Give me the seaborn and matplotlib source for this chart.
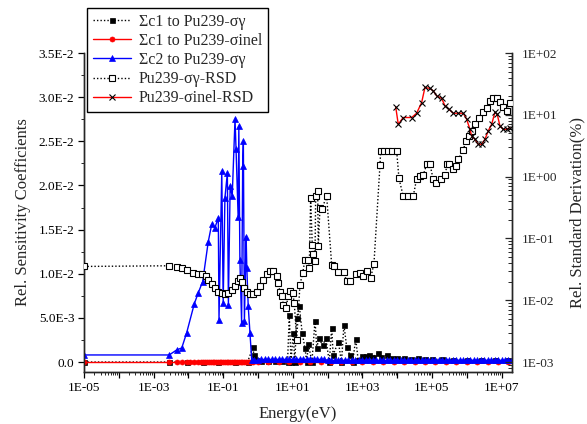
import numpy as np
import matplotlib
matplotlib.use("Agg")
import matplotlib.pyplot as plt
import seaborn as sns
from matplotlib.ticker import MultipleLocator, LogLocator, FuncFormatter, NullFormatter

# ---------------- data (log10 of energy in eV, values) ----------------
# Sigma c1 to Pu239-sigma_gamma (left axis)
c1g_logE = [-5.0, -2.55, -2.05, -1.59, -1.14, -0.66, -0.30,
            -0.14, -0.12, -0.05, 0.10, 0.30, 0.50, 0.70, 0.85, 0.90, 0.95,
            1.01, 1.06, 1.11, 1.19, 1.27, 1.35, 1.40, 1.45, 1.55, 1.64,
            1.69, 1.75, 1.86, 1.95, 2.05, 2.12, 2.16, 2.31, 2.40, 2.47,
            2.55, 2.64, 2.72, 2.81, 2.88, 3.00, 3.10, 3.20, 3.30, 3.45,
            3.55, 3.70, 3.85, 4.00, 4.20, 4.40, 4.60, 4.80, 5.00, 5.30,
            5.60, 6.00, 6.40, 6.80, 7.20]
c1g_val = [0, 0, 0, 0, 0, 0, 0,
           0.0017, 0.0008, 0.0002, 0.0001, 0.0001, 0.0001, 0.0001, 0.0, 0.0053, 0.0,
           0.0033, 0.0, 0.0050, 0.0063, 0.0033, 0.0016, 0.0, 0.0020, 0.0, 0.0047,
           0.0016, 0.0027, 0.0019, 0.0027, 0.0, 0.0039, 0.0008, 0.0023, 0.0, 0.0042,
           0.0017, 0.0008, 0.0, 0.0026, 0.0002, 0.0007, 0.0007, 0.0008, 0.0006, 0.0010,
           0.0006, 0.0008, 0.0005, 0.0004, 0.0004, 0.0003, 0.0004, 0.0003, 0.0003, 0.0003,
           0.0002, 0.0002, 0.0002, 0.0002, 0.0002]

# Sigma c1 to Pu239-sigma_inel (left axis)
c1i_logE = [-5.0, -2.55, -2.34, -2.19, -2.05, -1.95, -1.83, -1.72, -1.65, -1.59,
            -1.52, -1.46, -1.40, -1.35, -1.30, -1.25, -1.20, -1.15, -1.10, -1.05,
            -1.00, -0.95, -0.90, -0.85, -0.80, -0.75, -0.70, -0.65, -0.60, -0.55,
            -0.50, -0.45, -0.40, -0.35, -0.30, -0.25, -0.20, -0.15,
            0.0, 0.3, 0.6, 0.9, 1.2, 1.5, 1.8, 2.1, 2.4, 2.7, 3.0, 3.3, 3.6,
            3.9, 4.2, 4.5, 4.8, 5.1, 5.4, 5.7, 6.0, 6.3, 6.6, 6.9, 7.2]
c1i_val = [0.0, 0.0, 0.0, 0.0, 0.0, 0.0, 0.0, 0.0, 0.0, 0.0,
           0.0, 0.0, 0.0, 0.0, 0.0, 0.0, 0.0, 0.0, 0.0, 0.0,
           0.0, 0.0, 0.0, 0.0, 0.0, 0.0, 0.0, 0.0, 0.0, 0.0,
           0.0, 0.0, 0.0, 0.0, 0.0, 0.0, 0.0, 0.0,
           0.0, 0.0, 0.0, 0.0, 0.0, 0.0, 0.0, 0.0, 0.0, 0.0, 0.0, 0.0, 0.0,
           0.0, 0.0, 0.0, 0.0, 0.0, 0.0, 0.0, 0.0, 0.0, 0.0, 0.0, 0.0]

# Sigma c2 to Pu239-sigma_gamma (left axis)
c2g_logE = [-5.0, -2.55, -2.34, -2.19, -2.05, -1.83, -1.72, -1.59, -1.43, -1.33,
            -1.24, -1.14, -1.12, -1.04, -1.00, -0.95, -0.88, -0.85, -0.80, -0.74,
            -0.66, -0.63, -0.57, -0.55, -0.52, -0.47, -0.44, -0.42, -0.39, -0.34,
            -0.32, -0.28, -0.23, -0.18,
            -0.1, 0.0, 0.1, 0.2, 0.3, 0.4, 0.5, 0.6, 0.7, 0.8, 0.9, 1.0, 1.1, 1.2,
            1.3, 1.4, 1.5, 1.6, 1.7, 1.8, 1.9, 2.0, 2.1, 2.2, 2.3, 2.4, 2.5, 2.6,
            2.7, 2.8, 2.9, 3.0, 3.1, 3.2, 3.3, 3.4, 3.5, 3.6, 3.7, 3.8, 3.9, 4.0,
            4.1, 4.2, 4.3, 4.4, 4.5, 4.6, 4.7, 4.8, 4.9, 5.0, 5.1, 5.2, 5.3, 5.4,
            5.5, 5.6, 5.7, 5.8, 5.9, 6.0, 6.1, 6.2, 6.3, 6.4, 6.5, 6.6, 6.7, 6.8,
            6.9, 7.0, 7.1, 7.2, 7.3]
c2g_val = [0.0008, 0.0008, 0.00136, 0.0016, 0.0033, 0.0066, 0.0078, 0.0091, 0.0136, 0.0156,
           0.0152, 0.0163, 0.0048, 0.0216, 0.0067, 0.0186, 0.0214, 0.0065, 0.0199, 0.0188,
           0.0275, 0.0241, 0.0164, 0.0267, 0.0116, 0.0044, 0.0222, 0.0250, 0.0046, 0.0142,
           0.0106, 0.0063, 0.0033, 0.0002,
           0.0002, 0.0002, 0.0003, 0.0003, 0.0003, 0.0003, 0.0003, 0.0003, 0.0003, 0.0003, 0.0003, 0.0003, 0.0003, 0.0003,
           0.0003, 0.0003, 0.0003, 0.0003, 0.0003, 0.0003, 0.0003, 0.0002, 0.0002, 0.0002, 0.0002, 0.0002, 0.0002, 0.0002,
           0.0002, 0.0002, 0.0002, 0.0002, 0.0002, 0.0002, 0.0002, 0.0002, 0.0002, 0.0002, 0.0002, 0.0002, 0.0002, 0.0002,
           0.0002, 0.0002, 0.0002, 0.0002, 0.0002, 0.0002, 0.0002, 0.0002, 0.0002, 0.0002, 0.0002, 0.0002, 0.0002, 0.0002,
           0.0002, 0.0002, 0.0002, 0.0002, 0.0002, 0.0002, 0.0002, 0.0002, 0.0002, 0.0002, 0.0002, 0.0002, 0.0002, 0.0002,
           0.0002, 0.0002, 0.0002, 0.0002, 0.0002]

# Pu239-sigma_gamma RSD (right axis, %)
rsdg_logE = [-5.0, -2.549, -2.336, -2.193, -2.049, -1.859, -1.716, -1.601, -1.503, -1.428,
             -1.330, -1.236, -1.141, -1.043, -0.948, -0.853, -0.756, -0.661, -0.566, -0.517,
             -0.468, -0.402, -0.325, -0.230, -0.135, -0.037, 0.057, 0.152, 0.250, 0.345,
             0.440, 0.537, 0.583, 0.632, 0.698, 0.727, 0.796, 0.871, 0.920, 0.997,
             1.043, 1.112, 1.207, 1.284, 1.351, 1.445, 1.474, 1.514, 1.560, 1.589,
             1.638, 1.658, 1.716, 1.733, 1.782, 1.830, 1.974, 2.118, 2.184, 2.307,
             2.471, 2.549, 2.644, 2.816, 2.931, 3.009, 3.124, 3.239, 3.333, 3.506,
             3.526, 3.621, 3.736, 3.851, 3.986, 4.052, 4.175, 4.310, 4.463, 4.560,
             4.655, 4.750, 4.848, 4.943, 5.037, 5.106, 5.250, 5.374, 5.440, 5.497,
             5.612, 5.690, 5.756, 5.899, 5.977, 6.072, 6.141, 6.236, 6.359, 6.474,
             6.572, 6.667, 6.761, 6.859, 6.954, 7.049, 7.147, 7.241]
rsdg_val = [0.0352, 0.0361, 0.0340, 0.0327, 0.0312, 0.0275, 0.0269, 0.0269, 0.0243, 0.0214,
            0.0185, 0.0159, 0.0138, 0.0130, 0.0127, 0.0133, 0.0148, 0.0167, 0.0201, 0.0229,
            0.0194, 0.0157, 0.0135, 0.0126, 0.0126, 0.0138, 0.0167, 0.0214, 0.0269, 0.0296,
            0.0292, 0.0243, 0.0190, 0.0138, 0.0115, 0.0084, 0.0074, 0.0115, 0.0142, 0.0133,
            0.0090, 0.0023, 0.0178, 0.0275, 0.0453, 0.0453, 0.0332, 0.454, 0.0793, 0.0566,
            0.0425, 0.482, 0.582, 0.0745, 0.313, 0.294, 0.482, 0.0376, 0.0352, 0.0282,
            0.0282, 0.0201, 0.0201, 0.0269, 0.0275, 0.0243, 0.0292, 0.0229, 0.0390, 1.52,
            2.59, 2.59, 2.59, 2.59, 2.59, 0.935, 0.482, 0.482, 0.482, 0.925,
            1.02, 1.06, 1.58, 1.58, 0.902, 0.796, 0.902, 1.06, 1.58, 1.58,
            1.34, 1.48, 1.90, 2.69, 3.77, 4.54, 5.48, 7.03, 9.04, 11.1,
            13.1, 16.8, 18.4, 18.4, 16.0, 13.3, 11.4, 15.4]

# Pu239-sigma_inel RSD (right axis, %)
rsdi_logE = [3.957, 4.032, 4.175, 4.417, 4.560, 4.704, 4.799, 4.943, 5.037, 5.135,
             5.279, 5.374, 5.489, 5.612, 5.747, 5.899, 5.997, 6.092, 6.141, 6.236,
             6.330, 6.428, 6.523, 6.618, 6.716, 6.810, 6.876, 6.954, 7.049, 7.147, 7.241]
rsdi_val = [13.6, 7.03, 9.04, 9.04, 10.6, 15.8, 27.7, 26.7, 24.4, 20.3,
            18.4, 14.0, 12.3, 10.6, 10.6, 10.6, 8.49, 5.83, 4.54, 4.02,
            3.33, 3.33, 4.02, 5.48, 7.03, 10.9, 10.2, 6.61, 5.83, 5.83, 6.22]

labels = ["\u03a3c1 to Pu239-\u03c3\u03b3", "\u03a3c1 to Pu239-\u03c3inel",
          "\u03a3c2 to Pu239-\u03c3\u03b3", "Pu239-\u03c3\u03b3-RSD", "Pu239-\u03c3inel-RSD"]
x_tick_exponents = [-5, -3, -1, 1, 3, 5, 7]

# ---------------- style ----------------
sns.set_style("ticks")
plt.rcParams["font.family"] = ["Liberation Serif", "DejaVu Serif"]
plt.rcParams["axes.linewidth"] = 1.0

fig = plt.figure(figsize=(5.87, 4.24), dpi=100)
ax = fig.add_axes([84 / 587, 1 - 372 / 424, (511.7 - 84) / 587, (372 - 53) / 424])
ax.set_xscale("log")
ax2 = ax.twinx()
ax2.set_yscale("log")

dot = (0, (1, 1.5))
handles = []

sns.lineplot(x=10 ** np.array(c1g_logE), y=c1g_val, ax=ax, color="black", linestyle=dot,
             linewidth=1.0, marker="s", markersize=3.6, markeredgecolor="black",
             markerfacecolor="black", markeredgewidth=0.5, estimator=None, zorder=2)
handles.append(ax.lines[-1])
sns.lineplot(x=10 ** np.array(c1i_logE), y=c1i_val, ax=ax, color="red", linestyle="-",
             linewidth=1.0, marker="o", markersize=3.6, markeredgecolor="red",
             markerfacecolor="red", markeredgewidth=0.5, estimator=None, zorder=3)
handles.append(ax.lines[-1])
sns.lineplot(x=10 ** np.array(c2g_logE), y=c2g_val, ax=ax, color="blue", linestyle="-",
             linewidth=1.0, marker="^", markersize=4.2, markeredgecolor="blue",
             markerfacecolor="blue", markeredgewidth=0.5, estimator=None, zorder=4)
handles.append(ax.lines[-1])
sns.lineplot(x=10 ** np.array(rsdg_logE), y=rsdg_val, ax=ax2, color="black", linestyle=dot,
             linewidth=1.0, marker="s", markersize=4.0, markeredgecolor="black",
             markerfacecolor="white", markeredgewidth=0.8, estimator=None, zorder=3)
handles.append(ax2.lines[-1])
sns.lineplot(x=10 ** np.array(rsdi_logE), y=rsdi_val, ax=ax2, color="red", linestyle="-",
             linewidth=1.0, marker="x", markersize=4.0, markeredgecolor="black",
             markeredgewidth=0.8, estimator=None, zorder=4)
handles.append(ax2.lines[-1])

for a in (ax, ax2):
    if a.get_legend() is not None:
        a.get_legend().remove()

# ---------------- axes ----------------
ax.set_xlim(1e-5, 1.96e7)
ax.set_ylim(-0.00113, 0.035)
ax2.set_ylim(6.9e-4, 100)

for a in (ax, ax2):
    a.spines["top"].set_visible(False)

def fmt_left(v, pos):
    if abs(v) < 1e-12:
        return "0.0"
    e = int(np.floor(np.log10(abs(v)) + 1e-9))
    m = v / 10 ** e
    return f"{m:.1f}E{e}"

def fmt_x(v, pos):
    e = int(round(np.log10(v)))
    return f"1E{e:+03d}" if e in x_tick_exponents else ""

def fmt_right(v, pos):
    e = int(round(np.log10(v)))
    return f"1E{e:+03d}"

ax.yaxis.set_major_locator(MultipleLocator(0.005))
ax.yaxis.set_minor_locator(MultipleLocator(0.0025))
ax.yaxis.set_major_formatter(FuncFormatter(fmt_left))
ax.xaxis.set_major_locator(LogLocator(base=10, numticks=40))
ax.xaxis.set_minor_locator(LogLocator(base=10, subs=np.arange(2, 10), numticks=40))
ax.xaxis.set_major_formatter(FuncFormatter(fmt_x))
ax.xaxis.set_minor_formatter(NullFormatter())
ax2.yaxis.set_major_locator(LogLocator(base=10, numticks=20))
ax2.yaxis.set_minor_locator(LogLocator(base=10, subs=np.arange(2, 10), numticks=20))
ax2.yaxis.set_major_formatter(FuncFormatter(fmt_right))
ax2.yaxis.set_minor_formatter(NullFormatter())

ax.tick_params(axis="both", which="major", direction="out", length=4, width=0.9,
               labelsize=9.5, colors="black")
ax.tick_params(axis="both", which="minor", direction="out", length=2, width=0.7)
ax.tick_params(axis="y", which="major", pad=3)
ax2.tick_params(axis="y", which="major", direction="in", length=5, width=0.9,
                labelsize=9.5, pad=7)
ax2.tick_params(axis="y", which="minor", direction="in", length=3, width=0.7)

ax.set_xlabel("Energy(eV)", fontsize=12, labelpad=8)
ax.set_ylabel("Rel. Sensitivity Coefficients", fontsize=12, labelpad=5)
ax2.set_ylabel("Rel. Standard Derivation(%)", fontsize=12, labelpad=9)

leg = fig.legend(handles, labels, loc="upper left",
                 bbox_to_anchor=(87 / 587, 1 - 8 / 424), bbox_transform=fig.transFigure,
                 frameon=True, fancybox=False, edgecolor="black", framealpha=1,
                 fontsize=11.5, handlelength=2.4, handletextpad=0.5, borderpad=0.35,
                 labelspacing=0.2, borderaxespad=0)
leg.get_frame().set_linewidth(1.0)

fig.savefig("out.png", dpi=100)
